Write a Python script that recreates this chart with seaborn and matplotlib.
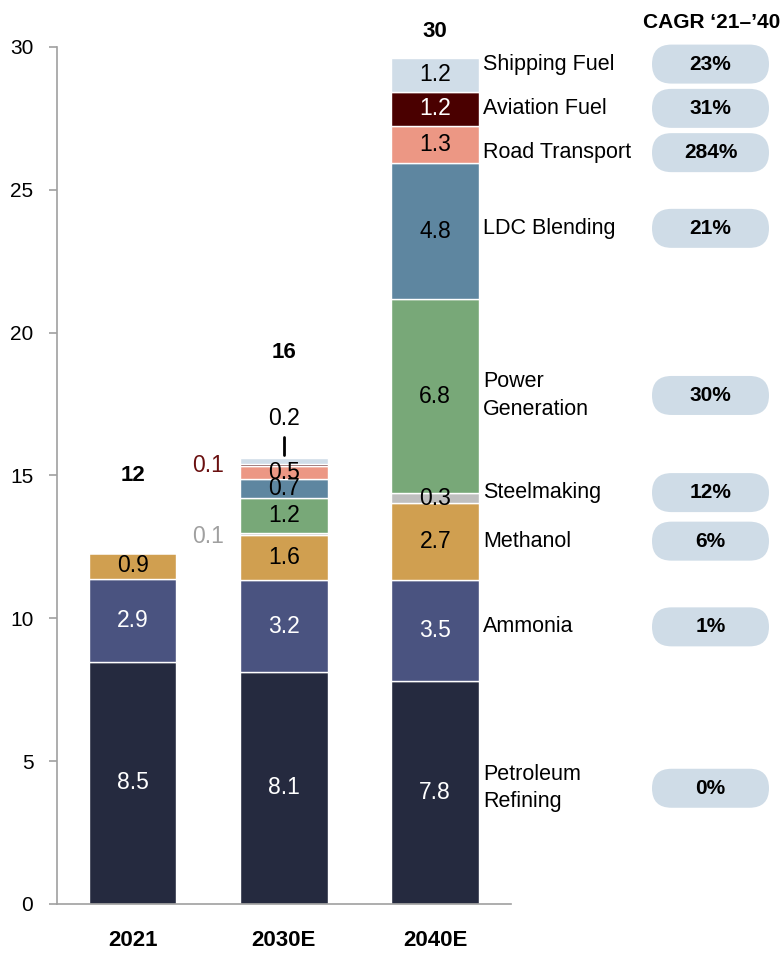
import numpy as np
import pandas as pd
import matplotlib
matplotlib.use('Agg')
import matplotlib.pyplot as plt
from matplotlib.patches import FancyBboxPatch
from matplotlib.transforms import IdentityTransform
import seaborn as sns

sns.set_style('white')
plt.rcParams['font.family'] = ['Liberation Sans', 'DejaVu Sans']
plt.rcParams['text.color'] = 'black'
plt.rcParams['xtick.color'] = 'black'
plt.rcParams['ytick.color'] = 'black'
NARROW = ['Liberation Sans Narrow', 'Liberation Sans', 'DejaVu Sans']

# %% data
years = ['2021', '2030E', '2040E']
segments = ['Petroleum\nRefining', 'Ammonia', 'Methanol', 'Steelmaking',
            'Power\nGeneration', 'LDC Blending', 'Road Transport',
            'Aviation Fuel', 'Shipping Fuel']
petroleum = [8.47, 8.12, 7.81]
ammonia = [2.91, 3.22, 3.53]
methanol = [0.91, 1.58, 2.70]
steelmaking = [0.0, 0.08, 0.33]
power = [0.0, 1.20, 6.79]
ldc = [0.0, 0.66, 4.79]
road = [0.0, 0.46, 1.30]
aviation = [0.0, 0.07, 1.19]
shipping = [0.0, 0.22, 1.19]
cagr = ['0%', '1%', '6%', '12%', '30%', '21%', '284%', '31%', '23%']

colors = ['#252a3f', '#4a5380', '#d09f50', '#bfbfbf', '#78a878',
          '#5e86a0', '#ec9784', '#4a0000', '#d0dde8']
text_colors = ['white', 'white', 'black', 'black', 'black',
               'black', 'black', 'white', 'black']

series = [petroleum, ammonia, methanol, steelmaking, power, ldc, road, aviation, shipping]
df = pd.DataFrame({'year': years})
for name, vals in zip(segments, series):
    df[name] = vals

# label placement for right-hand names / pills (y in data units)
side_y = [4.05, 9.7, 12.7, 14.4, 17.8, 23.65, 26.3, 27.85, 29.4]
total_offset = [2.7, 3.7, 0.92]

# %% plot
fig = plt.figure(figsize=(7.8, 9.72), dpi=100)
ax = fig.add_axes([0.073, 0.070, 0.582, 0.8817])

bottom = np.zeros(len(years))
for name, c, tc in zip(segments, colors, text_colors):
    vals = df[name].to_numpy()
    sns.barplot(x=df['year'], y=vals, bottom=bottom, color=c, width=0.58,
                saturation=1, edgecolor='white', linewidth=1, errorbar=None, ax=ax)
    for i, v in enumerate(vals):
        if v >= 0.3:
            ax.text(i, bottom[i] + v / 2, f'{v:.1f}', ha='center', va='center',
                    color=tc, fontsize=16.5, family=NARROW)
    bottom = bottom + vals

# small 2030E segments labelled outside
b30 = np.cumsum([s[1] for s in series])
ax.text(0.5, b30[3] - steelmaking[1] / 2 - 0.1, f'{steelmaking[1]:.1f}', ha='center',
        va='center', color='#a0a0a0', fontsize=16.5, family=NARROW)
ax.text(0.5, b30[7] - aviation[1] / 2, f'{aviation[1]:.1f}', ha='center',
        va='center', color='#6a1010', fontsize=16.5, family=NARROW)
ax.text(1, b30[8] + 1.4, f'{shipping[1]:.1f}', ha='center', va='center',
        color='black', fontsize=16.5, family=NARROW)
ax.plot([1, 1], [b30[8] + 0.1, b30[8] + 0.75], color='black', lw=2)

# totals
for i, t in enumerate(bottom):
    ax.text(i, t + total_offset[i], f'{t:.0f}', ha='center', va='center',
            fontsize=16, fontweight='bold', family=NARROW, clip_on=False)

# segment names on the right
for name, y in zip(segments, side_y):
    ax.text(2.317, y, name, ha='left', va='center', fontsize=15.5,
            linespacing=1.4, clip_on=False)

ax.set_ylim(0, 30)
ax.set_xlim(-0.5, 2.5)
ax.set_yticks([0, 5, 10, 15, 20, 25, 30])
ax.set_xlabel('')
ax.set_ylabel('')
sns.despine(ax=ax)
for s in ['left', 'bottom']:
    ax.spines[s].set_color('#a0a0a0')
    ax.spines[s].set_linewidth(1.2)
ax.tick_params(axis='y', length=6, width=1.2, color='#a0a0a0', labelcolor='black',
               pad=11, labelsize=15, left=True)
ax.tick_params(axis='x', length=0, pad=19, labelsize=16, labelcolor='black')
for lab in ax.get_yticklabels():
    lab.set_family(NARROW)
for lab in ax.get_xticklabels():
    lab.set_fontweight('bold')
    lab.set_family(NARROW)

# CAGR pills
for txt, y in zip(cagr, side_y):
    ypix = ax.transData.transform((0, y))[1]
    pill = FancyBboxPatch((652, ypix - 19.5), 117, 39,
                          boxstyle='round,pad=0,rounding_size=19.5',
                          transform=IdentityTransform(), fc='#cfdce7', ec='none')
    fig.add_artist(pill)
    fig.text(710.5 / 780, ypix / 972, txt, ha='center', va='center', fontsize=15,
             fontweight='bold', family=NARROW)

fig.text(712 / 780, 1 - 22 / 972, 'CAGR \u201821\u2013\u201940', ha='center', va='center',
         fontsize=15, fontweight='bold', family=NARROW)

fig.savefig('out.png', dpi=100)
